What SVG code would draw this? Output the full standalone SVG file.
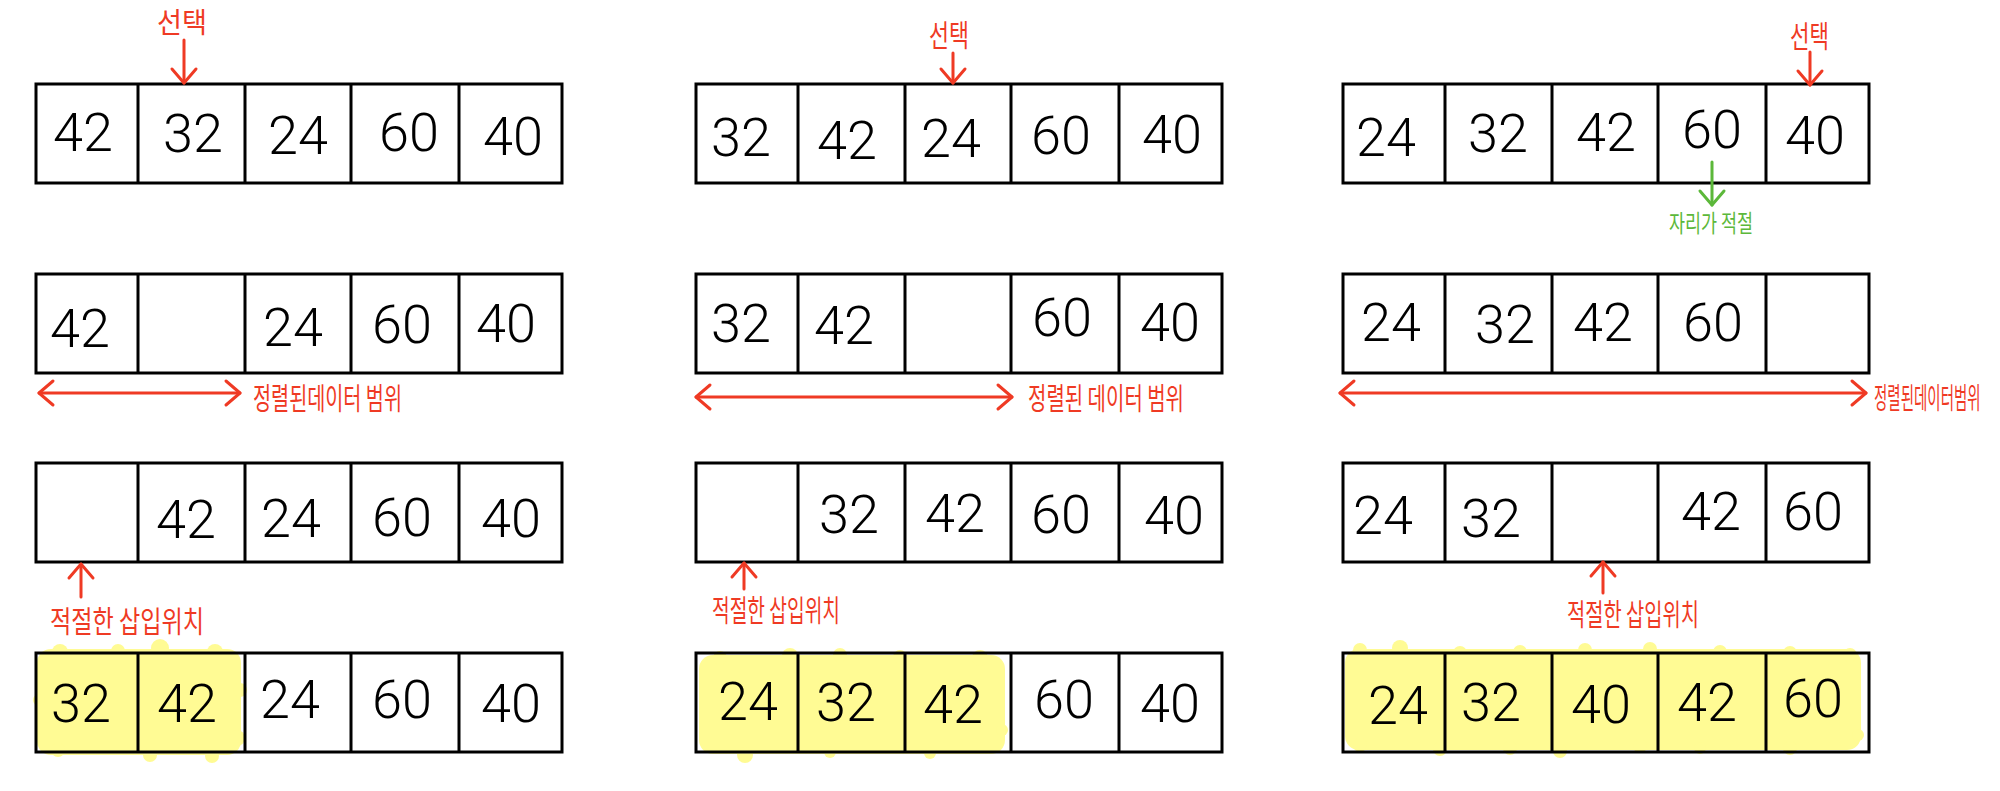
<svg xmlns="http://www.w3.org/2000/svg" width="2000" height="791" viewBox="0 0 2000 791">
<style>
.cell{fill:none;stroke:#000;stroke-width:3}
.num{font-family:Roboto,Inter,"Liberation Sans",sans-serif;font-size:54px;font-weight:300;text-anchor:middle;fill:#000}
.red{fill:none;stroke:#ef3a24;stroke-width:3;stroke-linecap:round}
.grn{fill:none;stroke:#5cb83a;stroke-width:3;stroke-linecap:round}
.lbl{font-family:"Noto Sans CJK KR","Noto Sans",sans-serif;font-size:30px;fill:#ef3a24}
.glbl{font-family:"Noto Sans CJK KR","Noto Sans",sans-serif;font-size:24px;fill:#5cb83a}
.hl{fill:#fffb94}
</style>
<defs>
<marker id="ar" viewBox="-17 -15 20 30" refX="0" refY="0" markerWidth="20" markerHeight="30" markerUnits="userSpaceOnUse" orient="auto-start-reverse"><path d="M-14,-12 L0,0 L-14,12" fill="none" stroke="#ef3a24" stroke-width="3" stroke-linecap="round" stroke-linejoin="round"/></marker>
<marker id="ag" viewBox="-17 -15 20 30" refX="0" refY="0" markerWidth="20" markerHeight="30" markerUnits="userSpaceOnUse" orient="auto"><path d="M-14,-12 L0,0 L-14,12" fill="none" stroke="#5cb83a" stroke-width="3" stroke-linecap="round" stroke-linejoin="round"/></marker>
</defs>
<rect width="2000" height="791" fill="#fff"/>

<g id="highlights">
<g class="hl">
<rect x="37" y="649" width="204" height="106" rx="14"/>
<circle cx="60" cy="652" r="8"/><circle cx="118" cy="651" r="7"/><circle cx="160" cy="648" r="9"/><circle cx="215" cy="652" r="8"/>
<circle cx="39" cy="700" r="6"/><circle cx="240" cy="690" r="7"/><circle cx="237" cy="738" r="8"/><circle cx="150" cy="755" r="7"/><circle cx="212" cy="756" r="7"/><circle cx="58" cy="750" r="7"/>
<rect x="699" y="655" width="306" height="99" rx="14"/>
<circle cx="720" cy="658" r="7"/><circle cx="790" cy="656" r="8"/><circle cx="840" cy="655" r="7"/><circle cx="900" cy="657" r="7"/><circle cx="980" cy="658" r="8"/>
<circle cx="745" cy="755" r="8"/><circle cx="830" cy="752" r="6"/><circle cx="930" cy="753" r="6"/><circle cx="1002" cy="730" r="6"/>
<rect x="1345" y="649" width="516" height="101" rx="14"/>
<circle cx="1360" cy="650" r="7"/><circle cx="1400" cy="648" r="8"/><circle cx="1460" cy="653" r="7"/><circle cx="1520" cy="652" r="7"/><circle cx="1585" cy="650" r="7"/><circle cx="1650" cy="649" r="7"/><circle cx="1720" cy="652" r="7"/><circle cx="1790" cy="653" r="7"/><circle cx="1850" cy="655" r="7"/>
<circle cx="1360" cy="745" r="7"/><circle cx="1440" cy="749" r="7"/><circle cx="1510" cy="748" r="7"/><circle cx="1560" cy="751" r="7"/><circle cx="1640" cy="746" r="7"/><circle cx="1700" cy="748" r="6"/><circle cx="1790" cy="748" r="7"/><circle cx="1858" cy="735" r="6"/>
</g>
</g>

<g id="g1-step1">
<rect class="cell" x="36" y="84" width="526" height="99"/>
<path class="cell" d="M138,84V183M245,84V183M351,84V183M459,84V183"/>
<text class="num" x="83" y="151">42</text><text class="num" x="193" y="152">32</text><text class="num" x="298" y="154">24</text><text class="num" x="409" y="151">60</text><text class="num" x="513" y="155">40</text>
</g>
<g id="g1-step2">
<rect class="cell" x="36" y="274" width="526" height="99"/>
<path class="cell" d="M138,274V373M245,274V373M351,274V373M459,274V373"/>
<text class="num" x="80" y="347">42</text><text class="num" x="293" y="346">24</text><text class="num" x="402" y="343">60</text><text class="num" x="506" y="342">40</text>
</g>
<g id="g1-step3">
<rect class="cell" x="36" y="463" width="526" height="99"/>
<path class="cell" d="M138,463V562M245,463V562M351,463V562M459,463V562"/>
<text class="num" x="186" y="538">42</text><text class="num" x="291" y="537">24</text><text class="num" x="402" y="536">60</text><text class="num" x="511" y="537">40</text>
</g>
<g id="g1-step4">
<rect class="cell" x="36" y="653" width="526" height="99"/>
<path class="cell" d="M138,653V752M245,653V752M351,653V752M459,653V752"/>
<text class="num" x="81" y="722">32</text><text class="num" x="187" y="722">42</text><text class="num" x="290" y="718">24</text><text class="num" x="402" y="718">60</text><text class="num" x="511" y="722">40</text>
</g>

<g id="g2-step1">
<rect class="cell" x="696" y="84" width="526" height="99"/>
<path class="cell" d="M798,84V183M905,84V183M1011,84V183M1119,84V183"/>
<text class="num" x="741" y="156">32</text><text class="num" x="847" y="159">42</text><text class="num" x="951" y="157">24</text><text class="num" x="1061" y="154">60</text><text class="num" x="1172" y="153">40</text>
</g>
<g id="g2-step2">
<rect class="cell" x="696" y="274" width="526" height="99"/>
<path class="cell" d="M798,274V373M905,274V373M1011,274V373M1119,274V373"/>
<text class="num" x="741" y="342">32</text><text class="num" x="844" y="344">42</text><text class="num" x="1062" y="336">60</text><text class="num" x="1170" y="341">40</text>
</g>
<g id="g2-step3">
<rect class="cell" x="696" y="463" width="526" height="99"/>
<path class="cell" d="M798,463V562M905,463V562M1011,463V562M1119,463V562"/>
<text class="num" x="849" y="533">32</text><text class="num" x="955" y="532">42</text><text class="num" x="1061" y="533">60</text><text class="num" x="1174" y="534">40</text>
</g>
<g id="g2-step4">
<rect class="cell" x="696" y="653" width="526" height="99"/>
<path class="cell" d="M798,653V752M905,653V752M1011,653V752M1119,653V752"/>
<text class="num" x="748" y="720">24</text><text class="num" x="846" y="721">32</text><text class="num" x="953" y="723">42</text><text class="num" x="1064" y="718">60</text><text class="num" x="1170" y="722">40</text>
</g>

<g id="g3-step1">
<rect class="cell" x="1343" y="84" width="526" height="99"/>
<path class="cell" d="M1445,84V183M1552,84V183M1658,84V183M1766,84V183"/>
<text class="num" x="1386" y="156">24</text><text class="num" x="1498" y="152">32</text><text class="num" x="1606" y="151">42</text><text class="num" x="1712" y="148">60</text><text class="num" x="1815" y="154">40</text>
</g>
<g id="g3-step2">
<rect class="cell" x="1343" y="274" width="526" height="99"/>
<path class="cell" d="M1445,274V373M1552,274V373M1658,274V373M1766,274V373"/>
<text class="num" x="1391" y="341">24</text><text class="num" x="1505" y="343">32</text><text class="num" x="1603" y="341">42</text><text class="num" x="1713" y="341">60</text>
</g>
<g id="g3-step3">
<rect class="cell" x="1343" y="463" width="526" height="99"/>
<path class="cell" d="M1445,463V562M1552,463V562M1658,463V562M1766,463V562"/>
<text class="num" x="1383" y="534">24</text><text class="num" x="1491" y="537">32</text><text class="num" x="1711" y="530">42</text><text class="num" x="1813" y="530">60</text>
</g>
<g id="g3-step4">
<rect class="cell" x="1343" y="653" width="526" height="99"/>
<path class="cell" d="M1445,653V752M1552,653V752M1658,653V752M1766,653V752"/>
<text class="num" x="1398" y="724">24</text><text class="num" x="1491" y="721">32</text><text class="num" x="1601" y="723">40</text><text class="num" x="1707" y="721">42</text><text class="num" x="1813" y="717">60</text>
</g>

<g id="connectors">
<line class="red" x1="184" y1="40" x2="184" y2="83" marker-end="url(#ar)"/>
<line class="red" x1="953" y1="53" x2="953" y2="83" marker-end="url(#ar)"/>
<line class="red" x1="1810" y1="52" x2="1810" y2="85" marker-end="url(#ar)"/>
<line class="grn" x1="1712" y1="162" x2="1712" y2="205" marker-end="url(#ag)"/>
<line class="red" x1="39" y1="393" x2="240" y2="393" marker-start="url(#ar)" marker-end="url(#ar)"/>
<line class="red" x1="696" y1="397" x2="1012" y2="397" marker-start="url(#ar)" marker-end="url(#ar)"/>
<line class="red" x1="1340" y1="393" x2="1866" y2="393" marker-start="url(#ar)" marker-end="url(#ar)"/>
<line class="red" x1="81" y1="597" x2="81" y2="564" marker-end="url(#ar)"/>
<line class="red" x1="744" y1="589" x2="744" y2="563" marker-end="url(#ar)"/>
<line class="red" x1="1603" y1="593" x2="1603" y2="562" marker-end="url(#ar)"/>
</g>

<g id="labels">
<text class="lbl" x="157" y="33" style="font-size:28px" textLength="50" lengthAdjust="spacingAndGlyphs">선택</text>
<text class="lbl" x="929" y="46" textLength="40" lengthAdjust="spacingAndGlyphs">선택</text>
<text class="lbl" x="1790" y="47" textLength="39" lengthAdjust="spacingAndGlyphs">선택</text>
<text class="glbl" x="1669" y="232" textLength="84" lengthAdjust="spacingAndGlyphs">자리가 적절</text>
<text class="lbl" x="253" y="409" textLength="149" lengthAdjust="spacingAndGlyphs">정렬된데이터 범위</text>
<text class="lbl" x="1028" y="409" textLength="156" lengthAdjust="spacingAndGlyphs">정렬된 데이터 범위</text>
<text class="lbl" transform="translate(1874,409) scale(1,2)" x="0" y="0" style="font-size:14.5px">정렬된데이터범위</text>
<text class="lbl" x="50" y="632" textLength="154" lengthAdjust="spacingAndGlyphs">적절한 삽입위치</text>
<text class="lbl" x="712" y="621" textLength="128" lengthAdjust="spacingAndGlyphs">적절한 삽입위치</text>
<text class="lbl" x="1567" y="625" textLength="132" lengthAdjust="spacingAndGlyphs">적절한 삽입위치</text>
</g>
</svg>
